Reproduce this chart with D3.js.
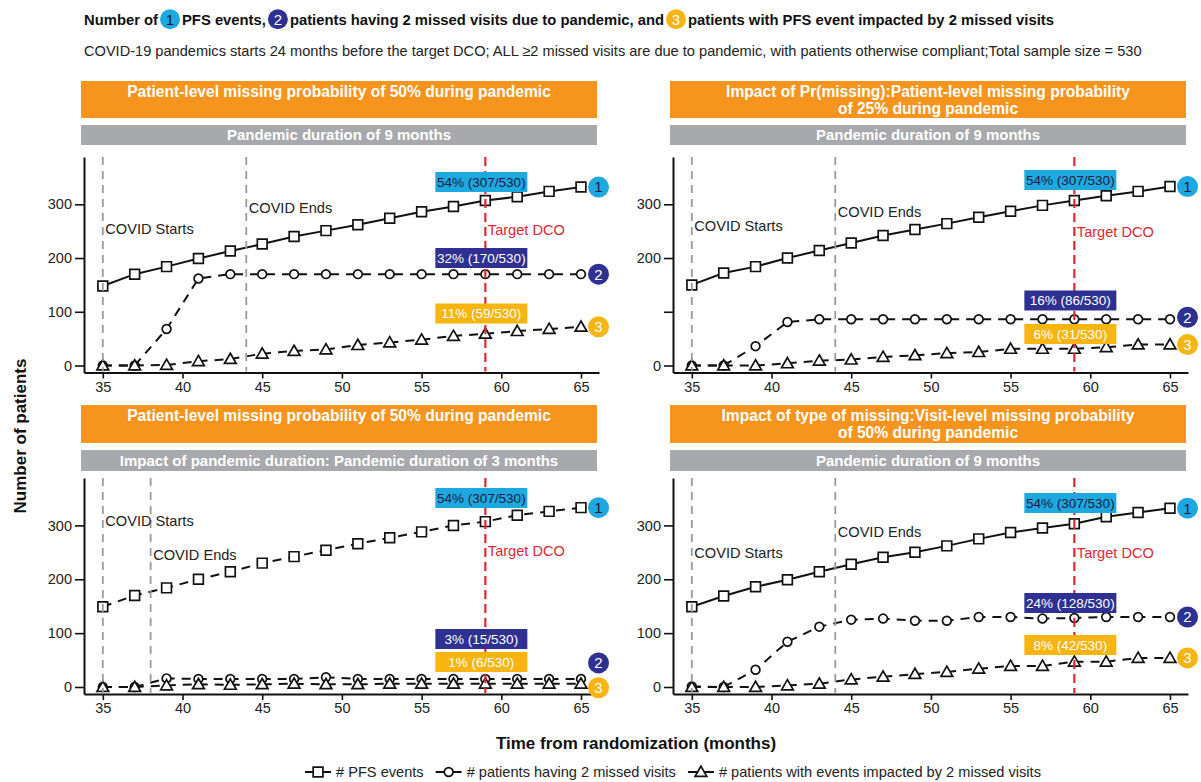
<!DOCTYPE html>
<html><head><meta charset="utf-8">
<script src="https://cdn.jsdelivr.net/npm/d3@7/dist/d3.min.js"></script>
<style>
html,body{margin:0;padding:0;background:#fff;}
svg text{font-family:"Liberation Sans",Arial,Helvetica,sans-serif;}
</style></head><body>
<svg id="chart" width="1201" height="782"></svg>
<script>
// ---------------- DATA ----------------
const months = [35,37,39,41,43,45,47,49,51,53,55,57,59,61,63,65];
const xTicks = [35,40,45,50,55,60,65];
const yTicks = [0,100,200,300];

// Panel A (top-left): 50% patient-level, 9 months
const pfsA  = [148,170,184,199,213,226,240,251,262,274,286,296,307,314,324,332];
const missA = [0,0,68,162,170,170,170,170,170,170,170,170,170,170,170,170];
const impA  = [0,0,1,8,12,22,27,30,38,43,48,55,59,64,68,72];
// Panel B (top-right): 25% patient-level, 9 months
const pfsB  = [150,172,184,200,214,228,242,253,264,276,287,298,307,316,324,333];
const missB = [0,0,36,81,86,86,86,86,86,86,86,86,86,86,86,86];
const impB  = [0,0,0,4,9,11,16,19,23,25,31,31,31,34,39,39];
// Panel C (bottom-left): 50% patient-level, 3 months
const pfsC  = [149,170,184,200,214,230,242,254,266,277,288,300,307,319,326,333];
const missC = [0,0,16,15,15,15,15,18,15,15,15,15,15,15,15,15];
const impC  = [0,0,3,5,4,5,6,5,5,6,6,6,6,6,6,6];
// Panel D (bottom-right): visit-level 50%, 9 months
const pfsD  = [149,169,186,199,214,228,241,250,262,275,287,295,303,316,324,332];
const missD = [1,0,32,84,112,125,127,123,123,130,130,127,128,130,130,130];
const impD  = [0,0,0,3,6,14,19,24,28,34,39,39,47,47,54,54];

const headA = ["Patient-level missing probability of 50% during pandemic"];
const headB = ["Impact of Pr(missing):Patient-level missing probability","of 25% during pandemic"];
const headC = ["Patient-level missing probability of 50% during pandemic"];
const headD = ["Impact of type of missing:Visit-level missing probability","of 50% during pandemic"];
const subA = "Pandemic duration of 9 months";
const subB = "Pandemic duration of 9 months";
const subC = "Impact of pandemic duration: Pandemic duration of 3 months";
const subD = "Pandemic duration of 9 months";
const labelsA = ["54% (307/530)","32% (170/530)","11% (59/530)"];
const labelsB = ["54% (307/530)","16% (86/530)","6% (31/530)"];
const labelsC = ["54% (307/530)","3% (15/530)","1% (6/530)"];
const labelsD = ["54% (307/530)","24% (128/530)","8% (42/530)"];
const covidStart = [35,35,35,35];
const covidEnd = [44,44,38,44];
const targetDCO = 59;

const legendLabels = ["# PFS events","# patients having 2 missed visits","# patients with events impacted by 2 missed visits"];
const mainTitle = ["Number of","1","PFS events,","2","patients having 2 missed visits due to pandemic, and","3","patients with PFS event impacted by 2 missed visits"];
const subtitle = "COVID-19 pandemics starts 24 months before the target DCO; ALL \u22652 missed visits are due to pandemic, with patients otherwise compliant;Total sample size = 530";

// ---------------- STYLE / LAYOUT ----------------
const C = {orange:"#f7941d", gray:"#a7a9ac", cyan:"#1ea8e0", navy:"#2e3192", yellow:"#f8b50f", red:"#e3262f", guide:"#9a9a9a"};
const badgeFill = [C.cyan, C.navy, C.yellow];
const badgeText = ["#1b1b40","#ffffff","#ffffff"];
const boxText = ["#1b1b40","#ffffff","#ffffff"];

const layouts = [
  {x0:84, y0:372.5, y1:157, bTop:81, bH:37, gTop:125, gH:20, ann:[229,208,230], box:[182,258,313.5], badgeDy:[0,0,0], yHide:[], pfsDash:false},
  {x0:673, y0:372.5, y1:157, bTop:81, bH:37, gTop:125, gH:20, ann:[226,212,232], box:[180,300.5,334], badgeDy:[0,-2,0], yHide:[100], pfsDash:false},
  {x0:84, y0:694, y1:478, bTop:405, bH:38, gTop:450, gH:21, ann:[521,555,551], box:[498,639,662], badgeDy:[0,-16,4], yHide:[], pfsDash:true},
  {x0:673, y0:694, y1:478, bTop:405, bH:38, gTop:450, gH:21, ann:[553,532,553], box:[503,603,645], badgeDy:[0,0,0], yHide:[], pfsDash:false}
];
const panelData = [
  {series:[pfsA,missA,impA], head:headA, sub:subA, labels:labelsA},
  {series:[pfsB,missB,impB], head:headB, sub:subB, labels:labelsB},
  {series:[pfsC,missC,impC], head:headC, sub:subC, labels:labelsC},
  {series:[pfsD,missD,impD], head:headD, sub:subD, labels:labelsD}
];

const svg = d3.select("#chart");
const symbols = [d3.symbolSquare, d3.symbolCircle, d3.symbolTriangle];
const symSize = [95, 60, 60];

function badge(g, cx, cy, r, i, fs){
  g.append("circle").attr("cx",cx).attr("cy",cy).attr("r",r).attr("fill",badgeFill[i]);
  g.append("text").attr("x",cx).attr("y",cy).attr("dy","0.36em").attr("text-anchor","middle")
    .attr("font-size",fs).attr("fill",badgeText[i]).text(String(i+1));
}

// ---------------- TITLE ----------------
(function(){
  const g = svg.append("g");
  let cx = 84; const y = 24.5, fs = 14.8;
  mainTitle.forEach((p, k) => {
    if (k % 2 === 1){
      const r = 10;
      cx += 2;
      badge(g, cx + r, y - 5.2, r, +p - 1, 15);
      cx += 2*r + 2;
    } else {
      const t = g.append("text").attr("x",cx).attr("y",y).attr("font-size",fs).attr("font-weight","bold").attr("fill","#111").text(p);
      cx += t.node().getComputedTextLength();
    }
  });
  g.append("text").attr("x",84).attr("y",56).attr("font-size",14.6).attr("fill","#222").text(subtitle);
})();

// ---------------- PANELS ----------------
panelData.forEach((pd, pi) => {
  const L = layouts[pi];
  const g = svg.append("g");
  const x = d3.scaleLinear().domain([33.82, 66.13]).range([L.x0, L.x0 + 515]);
  const y = d3.scaleLinear().domain([-13, 388]).range([L.y0, L.y1]);
  const bx = L.x0 - 3, bw = 516;

  // banners
  g.append("rect").attr("x",bx).attr("y",L.bTop).attr("width",bw).attr("height",L.bH).attr("fill",C.orange);
  pd.head.forEach((line, li) => {
    g.append("text").attr("x",bx + bw/2).attr("y",L.bTop + 10 + li*17.5).attr("dy","0.36em")
      .attr("text-anchor","middle").attr("font-size",15.6).attr("font-weight","bold").attr("fill","#fff").text(line);
  });
  g.append("rect").attr("x",bx).attr("y",L.gTop).attr("width",bw).attr("height",L.gH).attr("fill",C.gray);
  g.append("text").attr("x",bx + bw/2).attr("y",L.gTop + L.gH/2).attr("dy","0.36em")
    .attr("text-anchor","middle").attr("font-size",15).attr("font-weight","bold").attr("fill","#fff").text(pd.sub);

  // axes
  const ya = g.append("g").attr("transform",`translate(${L.x0},0)`)
    .call(d3.axisLeft(y).tickValues(yTicks).tickSize(9).tickSizeOuter(0).tickPadding(3)
      .tickFormat(d => L.yHide.includes(d) ? "" : d));
  const xa = g.append("g").attr("transform",`translate(0,${L.y0})`)
    .call(d3.axisBottom(x).tickValues(xTicks).tickSize(6).tickSizeOuter(0).tickPadding(3));
  [ya, xa].forEach(a => {
    a.select(".domain").attr("stroke","#111").attr("stroke-width",2);
    a.selectAll(".tick line").attr("stroke","#111").attr("stroke-width",1.6);
    a.selectAll(".tick text").attr("font-size",14.5).attr("fill","#222").attr("font-family",'"Liberation Sans",Arial,sans-serif');
  });

  // series
  pd.series.forEach((vals, si) => {
    const pts = months.map((m, k) => [m, vals[k]]);
    const dashed = si > 0 || L.pfsDash;
    g.append("path").datum(pts)
      .attr("d", d3.line().x(d => x(d[0])).y(d => y(d[1])))
      .attr("fill","none").attr("stroke","#111").attr("stroke-width",2)
      .attr("stroke-dasharray", dashed ? "9,7" : null);
  });
  pd.series.forEach((vals, si) => {
    g.selectAll(null).data(months.map((m, k) => [m, vals[k]])).enter().append("path")
      .attr("transform", d => `translate(${x(d[0])},${y(d[1]) + (si===2 ? 1 : 0)})`)
      .attr("d", d3.symbol().type(symbols[si]).size(symSize[si]))
      .attr("fill","#fff").attr("stroke","#111").attr("stroke-width",1.7);
  });

  // guide lines
  [covidStart[pi], covidEnd[pi]].forEach(m => {
    g.append("line").attr("x1",x(m)).attr("x2",x(m)).attr("y1",L.y1).attr("y2",L.y0 - 1)
      .attr("stroke",C.guide).attr("stroke-width",1.8).attr("stroke-dasharray","8,6");
  });
  g.append("line").attr("x1",x(targetDCO)).attr("x2",x(targetDCO)).attr("y1",L.y1).attr("y2",L.y0 - 1)
    .attr("stroke",C.red).attr("stroke-width",2.2).attr("stroke-dasharray","9,5");

  const ann = [["COVID Starts", covidStart[pi], "#222"], ["COVID Ends", covidEnd[pi], "#222"], ["Target DCO", targetDCO, C.red]];
  ann.forEach((a, ai) => {
    g.append("text").attr("x", x(a[1]) + 2.5).attr("y", L.ann[ai]).attr("dy","0.36em")
      .attr("font-size",14.6).attr("fill",a[2]).text(a[0]);
  });

  // label boxes at target DCO
  pd.labels.forEach((lab, li) => {
    const cx = x(targetDCO) - 4, cy = L.box[li];
    g.append("rect").attr("x",cx - 46).attr("y",cy - 10).attr("width",92).attr("height",20).attr("fill",badgeFill[li]);
    g.append("text").attr("x",cx).attr("y",cy).attr("dy","0.36em").attr("text-anchor","middle")
      .attr("font-size",13.5).attr("fill",boxText[li]).text(lab);
  });

  // numbered badges
  pd.series.forEach((vals, si) => {
    badge(g, x(66.1), y(vals[vals.length-1]) + L.badgeDy[si], 10.5, si, 15);
  });
});

// ---------------- AXIS TITLES ----------------
svg.append("text").attr("x",636).attr("y",743).attr("dy","0.36em").attr("text-anchor","middle")
  .attr("font-size",17).attr("font-weight","bold").attr("fill","#111").text("Time from randomization (months)");
svg.append("text").attr("transform","translate(20,436) rotate(-90)").attr("dy","0.36em").attr("text-anchor","middle")
  .attr("font-size",17).attr("font-weight","bold").attr("fill","#111").text("Number of patients");

// ---------------- LEGEND ----------------
(function(){
  const g = svg.append("g");
  const ly = 772, fs = 14.6;
  const items = legendLabels.map((lab, i) => {
    const t = g.append("text").attr("y",ly).attr("dy","0.36em").attr("font-size",fs).attr("fill","#222").text(lab);
    return {t, w: t.node().getComputedTextLength(), i};
  });
  const glyphW = 26, gap1 = 5, gap2 = 12;
  const total = items.reduce((s, it) => s + glyphW + gap1 + it.w, 0) + gap2 * (items.length - 1);
  let cx = 673 - total/2;
  items.forEach(it => {
    g.append("line").attr("x1",cx).attr("x2",cx + glyphW).attr("y1",ly).attr("y2",ly).attr("stroke","#111").attr("stroke-width",2);
    g.append("path").attr("transform",`translate(${cx + glyphW/2},${ly + (it.i===2?1:0)})`)
      .attr("d", d3.symbol().type(symbols[it.i]).size(symSize[it.i]))
      .attr("fill","#fff").attr("stroke","#111").attr("stroke-width",1.7);
    it.t.attr("x", cx + glyphW + gap1);
    cx += glyphW + gap1 + it.w + gap2;
  });
})();
</script>
</body></html>
